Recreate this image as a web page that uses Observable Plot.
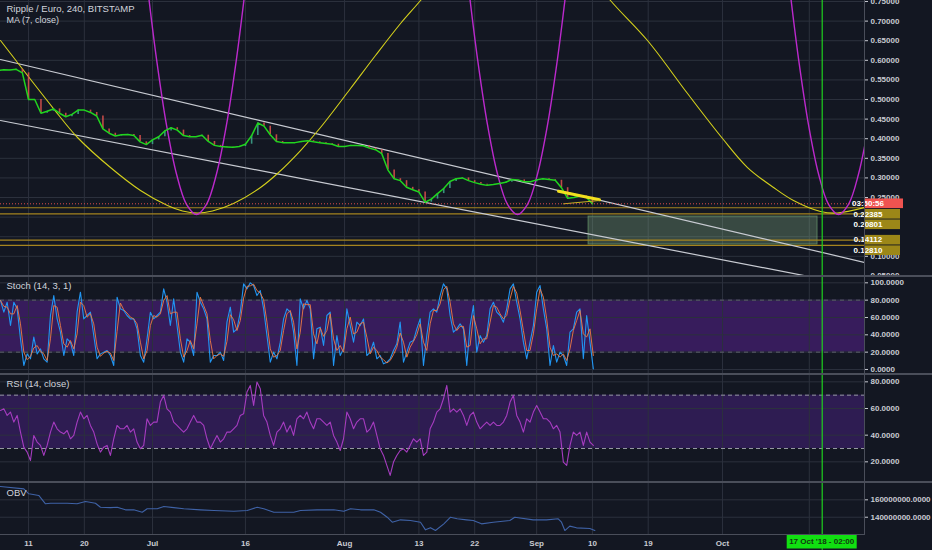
<!DOCTYPE html>
<html><head><meta charset="utf-8">
<script src="https://cdn.jsdelivr.net/npm/d3@7"></script>
<script src="https://cdn.jsdelivr.net/npm/@observablehq/plot@0.6"></script>
<style>
html,body{margin:0;padding:0;background:#131722;}
#chart{position:relative;width:932px;height:550px;background:#131722;overflow:hidden;font-family:"Liberation Sans",Arial,sans-serif;}
#chart svg{position:absolute;left:0;}
.hsep{position:absolute;left:0;width:932px;height:2px;background:#4a4e5a;}
</style></head><body><div id="chart"></div>
<script>
// ---------- data ----------
const xDomain = [new Date("2018-06-06T11:17Z"), new Date("2018-10-23T21:50Z")];
const xTickDates = ["2018-06-11","2018-06-20","2018-07-01","2018-07-16","2018-08-01","2018-08-13","2018-08-22","2018-09-01","2018-09-10","2018-09-19","2018-10-01","2018-10-15"];
const xTickLabels = ["11","20","Jul","16","Aug","13","22","Sep","10","19","Oct",""]; // the Oct 15 label sits under the cursor tag

const title = "Ripple / Euro, 240, BITSTAMP";
const maLabel = "MA (7, close)";
const priceStart = "2018-06-06T00:00Z"; // daily closes
const closes = [
 0.574,0.576,0.575,0.577,0.568,0.500,0.500,0.465,0.470,0.476,
 0.465,0.456,0.462,0.473,0.473,0.467,0.458,0.425,0.414,0.407,
 0.410,0.411,0.408,0.392,0.385,0.397,0.405,0.420,0.428,0.422,
 0.408,0.405,0.405,0.409,0.393,0.383,0.380,0.379,0.378,0.380,
 0.386,0.408,0.440,0.432,0.410,0.393,0.390,0.390,0.390,0.393,
 0.395,0.392,0.390,0.388,0.386,0.380,0.380,0.383,0.383,0.382,
 0.376,0.372,0.362,0.320,0.298,0.293,0.276,0.270,0.264,0.238,
 0.246,0.260,0.273,0.291,0.298,0.300,0.293,0.288,0.284,0.281,
 0.283,0.286,0.289,0.296,0.295,0.290,0.290,0.295,0.298,0.296,
 0.294,0.275,0.248,0.250,0.254,0.251,0.234];
const priceDomain = [0.0485, 0.7526];
const priceTicks = [0.05,0.10,0.15,0.20,0.25,0.30,0.35,0.40,0.45,0.50,0.55,0.60,0.65,0.70,0.75];
const hiddenPriceLabels = [0.15, 0.20]; // covered by the level tags
const levels = [0.22385, 0.20801, 0.14112, 0.12810];
const countdown = "03:50:56";

const channelDates = ["2018-06-06T11:17Z","2018-10-23T21:50Z","2018-06-06T11:17Z","2018-10-15T12:30Z"];
const channelPrices = [0.6020, 0.0845, 0.4464, 0.0467];
const channelSeg = ["upper","upper","lower","lower"];

const targetBox = {from:"2018-09-09T09:00Z", to:"2018-10-16T08:00Z", high:0.2015, low:0.130};

const wedgeDates = ["2018-09-04T12:40Z","2018-09-11T03:20Z","2018-09-05T08:00Z","2018-09-11T02:00Z"];
const wedgePrices = [0.2661, 0.2441, 0.2339, 0.2423];
const wedgeSeg = ["top","top","bottom","bottom"];

const yellowDates = [
 "2018-06-06T11:17Z","2018-06-15T00:30Z","2018-06-18T21:35Z","2018-06-24T05:15Z","2018-06-29T01:25Z",
 "2018-07-03T10:05Z","2018-07-05T20:10Z","2018-07-08T06:15Z","2018-07-10T16:20Z","2018-07-14T01:40Z",
 "2018-07-18T10:20Z","2018-07-21T04:05Z","2018-07-24T21:20Z","2018-07-28T02:40Z","2018-08-01T23:00Z",
 "2018-08-05T23:45Z","2018-08-10T00:45Z","2018-08-13T06:00Z","2018-08-16T11:30Z",
 "2018-09-10T12:00Z","2018-09-12T22:00Z","2018-09-18T21:20Z","2018-09-25T08:25Z","2018-10-01T00:00Z",
 "2018-10-05T00:45Z","2018-10-09T05:30Z","2018-10-12T10:50Z","2018-10-16T19:25Z","2018-10-19T13:10Z","2018-10-23T21:50Z"];
const yellowPrices = [
 0.6505,0.4770,0.4031,0.3265,0.2679,
 0.2296,0.2156,0.2105,0.2156,0.2347,
 0.2755,0.3112,0.3699,0.4286,0.5281,
 0.6122,0.6939,0.7526,0.8163,
 0.8036,0.7526,0.6505,0.5153,0.4005,
 0.3265,0.2755,0.2423,0.2143,0.2105,0.2245];
const yellowSeg = [1,1,1,1,1,1,1,1,1,1,1,1,1,1,1,1,1,1,1,2,2,2,2,2,2,2,2,2,2,2];

const magentaDates = [
 "2018-06-30T08:30Z","2018-07-01T15:30Z","2018-07-03T06:10Z","2018-07-04T21:00Z","2018-07-06T11:40Z","2018-07-08T02:25Z",
 "2018-07-09T17:10Z","2018-07-11T07:50Z","2018-07-12T22:35Z","2018-07-14T13:20Z","2018-07-15T20:20Z",
 "2018-08-21T03:55Z","2018-08-22T10:55Z","2018-08-24T01:40Z","2018-08-25T16:20Z","2018-08-27T07:05Z","2018-08-28T21:50Z",
 "2018-08-30T12:35Z","2018-09-01T03:20Z","2018-09-02T18:05Z","2018-09-04T08:45Z","2018-09-05T15:45Z",
 "2018-10-11T23:20Z","2018-10-13T06:20Z","2018-10-14T21:05Z","2018-10-16T11:50Z","2018-10-18T02:35Z","2018-10-19T17:15Z",
 "2018-10-21T08:00Z","2018-10-22T22:45Z","2018-10-24T13:30Z","2018-10-26T04:10Z","2018-10-27T11:10Z"];
const magentaPrices = [
 0.7658,0.6038,0.4352,0.3099,0.2327,0.2066,0.2327,0.3099,0.4352,0.6038,0.7658,
 0.7658,0.6038,0.4352,0.3099,0.2327,0.2066,0.2327,0.3099,0.4352,0.6038,0.7658,
 0.7658,0.6038,0.4352,0.3099,0.2327,0.2066,0.2327,0.3099,0.4352,0.6038,0.7658];
const magentaSeg = [1,1,1,1,1,1,1,1,1,1,1,2,2,2,2,2,2,2,2,2,2,2,3,3,3,3,3,3,3,3,3,3,3];

const eventDate = "2018-10-17T02:00Z";
const eventLabel = "17 Oct '18 - 02:00";

// oscillators: readings every 12.9 h from the first bar on screen
const oscStart = "2018-06-06T11:17Z";
const oscStepHours = 12.9;
const stochLabel = "Stoch (14, 3, 1)";
const stochK = [
 79.6,66.1,77.6,50.7,77.6,70,35.3,4.6,18,12.3,
 37.3,18,23.8,12.3,8.4,62.3,85.3,58.4,43,16.1,
 35.3,31.5,16.1,66.1,89.2,58.4,62.3,66.1,39.2,12.3,
 18,20,21.9,16.1,4.6,83.4,70,68,62.3,58.4,
 58.4,46.9,16.1,8.4,35.3,66.1,58.4,62.3,66.1,93,
 77.6,50.7,81.5,50.7,20,8.4,35.3,31.5,16.1,89.2,
 77.6,70,58.4,8.4,16.1,16.1,20,10.4,54.6,71.9,
 43,46.9,66.1,98.8,93,100,96.9,85.3,91.1,70,
 39.2,8.4,20,12.3,31.5,58.4,70,66.1,43,4.6,
 81.5,70,79.6,70,12.3,46.9,
 48.8,27.7,62.3,66.1,4.6,39.2,16.1,23.8,70,50.7,
 31.5,54.6,50.7,58.4,16.1,20,31.5,12.3,16.1,6.5,
 8.4,12.3,21.9,29.6,54.6,8.4,20,31.5,33.4,46.9,
 58.4,4.6,39.2,66.1,70,66.1,85.3,98.8,93,62.3,
 43,46.9,52.6,46.9,4.6,50.7,73.8,20,39.2,31.5,
 39.2,70,77.6,66.1,62.3,54.6,70,93,98.8,77.6,
 58.4,31.5,12.3,31.5,50.7,89.2,96.9,70,46.9,4.6,
 27.7,8.4,20,16.1,4.6,43,46.9,66.1,70,12.3,
 62.3,31.5,0.7];
const stochDomain = [-5.8, 107.3];
const stochBand = [20, 80];
const stochTicks = [0, 20, 40, 60, 80, 100];

const rsiLabel = "RSI (14, close)";
const rsi = [
 58.5,59.8,54.8,57.3,49.8,54.8,42.3,31,27.3,21,
 39.8,34.8,32.3,24.8,32.3,42.3,49.8,44.8,42.3,41,
 43.5,37.3,39.8,49.8,57.3,52.3,54.8,47.3,42.3,33.5,
 27.3,31,32.3,24.8,37.3,47.3,44.8,44.8,47.3,42.3,
 44.8,34.8,29.8,32.3,52.3,47.3,49.8,49.8,64.8,69.8,
 59.8,57.3,49.8,47.3,44.8,42.3,44.8,49.8,54.8,49.8,
 49.8,47.3,37.3,29.8,34.8,39.8,34.8,37.3,42.3,42.3,
 44.8,47.3,54.8,56,72.3,77.3,62.3,79.8,74.8,54.8,
 49.8,39.8,32.3,42.3,44.8,49.8,42.3,47.3,39.8,52.3,
 54.8,52.3,57.3,49.8,44.8,52.3,
 52.3,49.8,47.3,49.8,39.8,34.8,28.5,37.3,57.3,52.3,
 44.8,49.8,52.3,52.3,42.3,44.8,49.8,39.8,29.8,24.8,
 17.3,9.8,19.8,24.8,28.5,29.8,27.3,32.3,37.3,34.8,
 37.3,24.8,27.3,44.8,49.8,57.3,59.8,67.3,77.3,57.3,
 59.8,57.3,59.8,54.8,47.3,54.8,57.3,49.8,44.8,47.3,
 49.8,47.3,49.8,47.3,47.3,49.8,54.8,64.8,69.8,54.8,
 49.8,42.3,52.3,49.8,57.3,62.3,57.3,52.3,52.3,49.8,
 44.8,47.3,42.3,19.8,17.3,32.3,42.3,39.8,42.3,32.3,
 42.3,34.8,32.3];
const rsiDomain = [4.5, 85.5];
const rsiBand = [30, 70];
const rsiTicks = [20, 40, 60, 80];

const obvLabel = "OBV";
const obvDates = ["2018-06-06T11:00Z","2018-06-10T05:30Z","2018-06-11T01:00Z","2018-06-12T15:30Z","2018-06-13T17:30Z","2018-06-14T13:00Z","2018-06-17T05:30Z","2018-06-18T20:00Z","2018-06-20T04:30Z","2018-06-21T19:00Z","2018-06-22T14:30Z","2018-06-24T05:15Z","2018-06-25T07:15Z","2018-06-26T15:20Z","2018-06-27T23:30Z","2018-06-29T08:10Z","2018-06-30T03:20Z","2018-07-01T18:15Z","2018-07-02T20:00Z","2018-07-04T10:30Z","2018-07-06T01:15Z","2018-07-08T18:00Z","2018-07-10T21:30Z","2018-07-14T03:00Z","2018-07-16T06:45Z","2018-07-17T21:30Z","2018-07-18T23:00Z","2018-07-20T14:00Z","2018-07-23T19:10Z","2018-07-24T21:20Z","2018-07-27T14:00Z","2018-07-30T06:15Z","2018-07-31T21:00Z","2018-08-01T23:00Z","2018-08-03T13:40Z","2018-08-05T17:15Z","2018-08-06T19:10Z","2018-08-07T21:10Z","2018-08-08T16:35Z","2018-08-10T00:45Z","2018-08-11T15:20Z","2018-08-13T06:00Z","2018-08-14T01:25Z","2018-08-14T20:50Z","2018-08-15T16:05Z","2018-08-17T00:30Z","2018-08-18T02:25Z","2018-08-19T04:05Z","2018-08-20T16:20Z","2018-08-21T18:15Z","2018-08-23T02:25Z","2018-08-24T23:45Z","2018-08-27T16:05Z","2018-08-28T11:20Z","2018-08-31T10:35Z","2018-09-02T14:10Z","2018-09-04T11:30Z","2018-09-05T00:15Z","2018-09-05T13:10Z","2018-09-06T08:25Z","2018-09-07T10:20Z","2018-09-09T13:55Z","2018-09-10T09:20Z"];
const obvMillions = [175.3,172.6,166.9,165,155.4,156,156,155.4,158,156,151.5,151,151.5,148.5,148.5,145.7,149.7,149.7,152.3,151,149.7,148.5,147.7,146.9,147.7,151.5,149.7,145.7,145.7,147.7,148.5,148.5,146.9,149.7,148.5,148.5,145.7,140,134.3,137,136.2,134.3,125.5,128,124.7,132.4,140,138.2,137,136.2,132.4,134.3,136.2,140,137,137,138.2,134.3,124.7,129.8,127.8,127.1,124.8];
const obvDomain = [119e6, 179.9e6];
const obvTicks = [140e6, 160e6];

// ---------- styling ----------
const GRID = "#2c313d", TXT = "#c9cbd2";
const W = 932, MR = 68;
const FONT = "'Liberation Sans', Arial, sans-serif";
const chart = document.getElementById("chart");

// ---------- tables ----------
const DAY = 864e5;
const t0 = Date.parse(priceStart);
const priceRows = closes.map((c, i) => ({date: new Date(t0 + i * DAY), close: c, open: i ? closes[i - 1] : c}));
const lastClose = closes[closes.length - 1];
const oscT0 = Date.parse(oscStart);
const oscDate = i => new Date(oscT0 + i * oscStepHours * 3600e3);
const stochRows = stochK.map((k, i) => ({date: oscDate(i), k}));
const rsiRows = rsi.map((r, i) => ({date: oscDate(i), r}));
const obvRows = obvDates.map((d, i) => ({date: new Date(d), v: obvMillions[i] * 1e6}));
const channelRows = channelDates.map((d, i) => ({date: new Date(d), p: channelPrices[i], seg: channelSeg[i]}));
const wedgeRows = wedgeDates.map((d, i) => ({date: new Date(d), p: wedgePrices[i], seg: wedgeSeg[i]}));
const yellowRows = yellowDates.map((d, i) => ({date: new Date(d), p: yellowPrices[i], seg: yellowSeg[i]}));
const magentaRows = magentaDates.map((d, i) => ({date: new Date(d), p: magentaPrices[i], seg: magentaSeg[i]}));
const gridDates = xTickDates.map(d => new Date(d));
const ev = new Date(eventDate);

function base(height, yDomain, marks, overflow = "visible") {
  return Plot.plot({
    width: W, height, marginLeft: 0, marginRight: MR, marginTop: 0, marginBottom: 0,
    x: {type: "utc", domain: xDomain, axis: null},
    y: {domain: yDomain},
    style: {background: "transparent", color: TXT, fontFamily: FONT, fontSize: "8px", fontWeight: "bold", overflow},
    marks
  });
}
function rightAxis(ticks, fmt) {
  return Plot.axisY({anchor: "right", ticks, tickFormat: fmt, tickSize: 3, tickPadding: 3, label: null});
}
function panelTitle(lines, dyStart) {
  return lines.map((t, i) => Plot.text([t], {text: d => d, frameAnchor: "top-left", dx: 6, dy: dyStart + i * 11,
    textAnchor: "start", lineAnchor: "top", fill: "#d1d4dc", fontSize: i === 0 ? 9.5 : 9, fontWeight: "normal"}));
}
function place(svg, top) { svg.style.top = top + "px"; chart.appendChild(svg); }

// tags on the price axis (countdown + level values), stacked so they don't overlap
const tags = [{value: lastClose, text: countdown, fill: "#ef5350", w: 38}]
  .concat(levels.map(v => ({value: v, text: v.toFixed(5), fill: "#9c8718", w: 35})));
function tagMark(index, scales, values, dim) {
  const g = d3.create("svg:g");
  const x0 = dim.width - dim.marginRight + 1;
  let prev = -Infinity;
  tags.map(t => ({...t, y: scales.y(t.value)})).sort((a, b) => a.y - b.y).forEach(t => {
    const y = Math.max(t.y, prev + 10.5); prev = y;
    g.append("rect").attr("x", x0).attr("y", y - 4.8).attr("width", t.w).attr("height", 9.6).attr("fill", t.fill);
    g.append("text").attr("x", x0 + 3).attr("y", y).attr("dy", "0.35em").attr("fill", "#ffffff")
      .attr("font-size", 8).attr("font-weight", "bold").attr("font-family", FONT).text(t.text);
  });
  return g.node();
}

// ---------- price panel ----------
place(base(276, priceDomain, [
  Plot.ruleY(priceTicks, {stroke: GRID}),
  Plot.ruleX(gridDates, {stroke: GRID}),
  Plot.rect([targetBox], {x1: d => new Date(d.from), x2: d => new Date(d.to), y1: "low", y2: "high",
    fill: "#8fbc8f", fillOpacity: 0.3, stroke: "#7cb87c", strokeOpacity: 0.55}),
  Plot.ruleY(levels, {stroke: "#a5841f", strokeWidth: 1.2}),
  Plot.line(channelRows, {x: "date", y: "p", z: "seg", stroke: "#c8cbd2", strokeWidth: 1.2, clip: true}),
  Plot.line(yellowRows, {x: "date", y: "p", z: "seg", stroke: "#d4d01c", strokeWidth: 1.1, curve: "catmull-rom", clip: true}),
  Plot.line(magentaRows, {x: "date", y: "p", z: "seg", stroke: "#bb29cc", strokeWidth: 1.4, curve: "catmull-rom", clip: true}),
  Plot.ruleX(priceRows.filter(d => d.close < d.open), {x: "date", y1: "open", y2: "close", stroke: "#e0524e", strokeWidth: 1.6, strokeOpacity: 0.85}),
  Plot.ruleX(priceRows.filter(d => d.close >= d.open), {x: "date", y1: "open", y2: "close", stroke: "#3fa88f", strokeWidth: 1.6, strokeOpacity: 0.85}),
  Plot.line(priceRows, {x: "date", y: "close", stroke: "#21d41f", strokeWidth: 1.5}),
  Plot.line(wedgeRows.filter(d => d.seg === "top"), {x: "date", y: "p", stroke: "#f2e01e", strokeWidth: 3}),
  Plot.line(wedgeRows.filter(d => d.seg === "bottom"), {x: "date", y: "p", stroke: "#c9b420", strokeWidth: 1}),
  Plot.ruleY([lastClose], {stroke: "#ef5350", strokeDasharray: "1,2", strokeOpacity: 0.9}),
  Plot.ruleX([ev], {stroke: "#1fd11f", strokeWidth: 1.2}),
  rightAxis(priceTicks, d => hiddenPriceLabels.includes(d) ? "" : d.toFixed(5)),
  tagMark,
  ...panelTitle([title, maLabel], 5)
], "hidden"), 0);

// ---------- stoch panel ----------
place(base(98, stochDomain, [
  Plot.rect([stochBand], {x1: () => xDomain[0], x2: () => xDomain[1], y1: d => d[0], y2: d => d[1], fill: "#371c5c"}),
  Plot.ruleY(stochTicks, {stroke: GRID}),
  Plot.ruleX(gridDates, {stroke: GRID}),
  Plot.ruleY(stochBand, {stroke: "#5d606b", strokeDasharray: "4,4"}),
  Plot.line(stochRows, {x: "date", y: "k", stroke: "#2196f3", strokeWidth: 1.1}),
  Plot.line(stochRows, Plot.windowY({k: 2, anchor: "end"}, {x: "date", y: "k", stroke: "#ef7a45", strokeWidth: 1, strokeOpacity: 0.9})),
  Plot.ruleX([ev], {stroke: "#1fd11f", strokeWidth: 1.2}),
  rightAxis(stochTicks, d => d.toFixed(4)),
  ...panelTitle([stochLabel], 6)
]), 276);

// ---------- RSI panel ----------
place(base(108, rsiDomain, [
  Plot.rect([rsiBand], {x1: () => xDomain[0], x2: () => xDomain[1], y1: d => d[0], y2: d => d[1], fill: "#2e1c52"}),
  Plot.ruleY(rsiTicks, {stroke: GRID}),
  Plot.ruleX(gridDates, {stroke: GRID}),
  Plot.ruleY(rsiBand, {stroke: "#9598a1", strokeDasharray: "4,3"}),
  Plot.line(rsiRows, {x: "date", y: "r", stroke: "#a63cc0", strokeWidth: 1.1}),
  Plot.ruleX([ev], {stroke: "#1fd11f", strokeWidth: 1.2}),
  rightAxis(rsiTicks, d => d.toFixed(4)),
  ...panelTitle([rsiLabel], 6)
]), 374);

// ---------- OBV panel ----------
place(base(53, obvDomain, [
  Plot.ruleY(obvTicks, {stroke: GRID}),
  Plot.ruleX(gridDates, {stroke: GRID}),
  Plot.line(obvRows, {x: "date", y: "v", stroke: "#3f62a6", strokeWidth: 1.1}),
  Plot.ruleX([ev], {stroke: "#1fd11f", strokeWidth: 1.2}),
  rightAxis(obvTicks, d => d.toFixed(4)),
  ...panelTitle([obvLabel], 7)
]), 482);

// ---------- time axis ----------
const xTicks = gridDates.map((d, i) => ({date: d, label: xTickLabels[i]})).filter(d => d.label);
function eventTag(index, scales, values, dim) {
  const g = d3.create("svg:g");
  const x = scales.x(ev);
  g.append("rect").attr("x", x - 35).attr("y", -1).attr("width", 70).attr("height", 14.5).attr("fill", "#11e011");
  g.append("text").attr("x", x).attr("y", 6.5).attr("dy", "0.35em").attr("text-anchor", "middle")
    .attr("fill", "#103a10").attr("font-size", 8).attr("font-family", FONT).text(eventLabel);
  return g.node();
}
place(Plot.plot({
  width: W, height: 15, marginLeft: 0, marginRight: MR, marginTop: 0, marginBottom: 0,
  x: {type: "utc", domain: xDomain, axis: null},
  style: {background: "transparent", color: TXT, fontFamily: FONT, fontSize: "8px", fontWeight: "bold", overflow: "visible"},
  marks: [
    Plot.text(xTicks, {x: "date", text: "label", frameAnchor: "middle", fill: TXT}),
    Plot.ruleX([ev], {stroke: "#1fd11f"}),
    eventTag
  ]
}), 535);

// ---------- separators ----------
for (const top of [275, 373, 481]) {
  const s = document.createElement("div"); s.className = "hsep"; s.style.top = top + "px"; chart.appendChild(s);
}
const vs = document.createElement("div");
vs.style.cssText = "position:absolute;left:864px;top:0;width:1px;height:535px;background:#4a4e5a";
chart.appendChild(vs);
const bs = document.createElement("div");
bs.style.cssText = "position:absolute;left:0;top:534px;width:865px;height:1px;background:#4a4e5a";
chart.appendChild(bs);
</script></body></html>
